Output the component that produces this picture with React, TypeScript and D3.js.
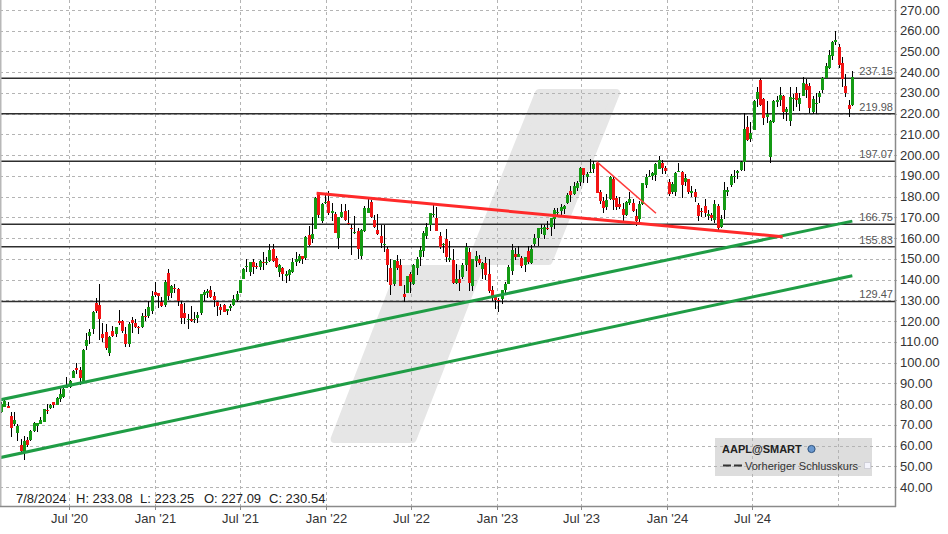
import React from 'react';
import * as d3 from 'd3';

type OHLC = [number, number, number, number];

// first weekly candle starts Monday 2020-02-03
const firstWeekStart = Date.UTC(2020, 1, 3);

const ohlc2020: OHLC[] = [
  [76.07, 81.19, 75.8, 80.01], [78.54, 81.97, 78.5, 81.24], [78.84, 81.16, 78.46, 78.26], [74.32, 76.04, 64.09, 68.34],
  [70.57, 76.0, 69.43, 72.26], [65.94, 70.31, 62.0, 69.49], [60.49, 63.2, 57.0, 57.31], [57.02, 64.67, 53.15, 61.94],
  [62.69, 63.88, 59.22, 60.35], [62.69, 67.52, 62.35, 66.99], [67.08, 71.58, 66.36, 70.7], [69.49, 70.75, 66.36, 70.74],
  [70.45, 73.63, 70.3, 72.27], [71.56, 77.59, 71.46, 77.53], [77.03, 79.92, 75.05, 76.93], [78.29, 80.22, 77.58, 79.72],
  [80.88, 81.06, 78.27, 79.49], [79.44, 83.4, 79.3, 82.88], [82.56, 88.69, 80.84, 84.7], [83.31, 88.3, 83.14, 87.43],
  [87.84, 93.1, 87.76, 88.41], [88.31, 91.67, 87.82, 91.03], [92.5, 96.32, 92.47, 95.92], [97.27, 99.95, 94.67, 96.33],
  [96.42, 97.97, 89.14, 92.62], [90.99, 106.41, 90.3, 106.26], [108.2, 114.41, 106.29, 111.11], [112.6, 116.04, 109.11, 114.91],
  [115.98, 124.87, 113.96, 124.37], [128.7, 131.0, 123.94, 124.81], [127.58, 137.98, 110.89, 120.96], [113.95, 119.14, 110.0, 112.0],
  [114.72, 118.83, 106.09, 106.84], [104.54, 112.86, 103.1, 112.28], [115.01, 117.72, 112.22, 113.02], [113.91, 117.0, 112.25, 116.97],
  [120.06, 125.39, 118.15, 119.02], [119.96, 120.42, 114.28, 115.04], [114.01, 117.28, 107.72, 108.86], [109.11, 119.62, 107.32, 118.69],
  [120.5, 121.99, 114.13, 119.26], [118.92, 120.99, 116.81, 117.34], [117.18, 117.62, 113.75, 116.59], [116.97, 123.78, 116.81, 122.25],
  [122.6, 125.95, 120.15, 122.41], [122.6, 129.58, 121.54, 126.66], [125.02, 134.41, 123.45, 131.97], [133.99, 138.79, 131.72, 132.69],
];

const ohlc2021: OHLC[] = [
  [133.52, 133.61, 126.38, 132.05], [129.19, 131.45, 126.86, 127.14], [127.78, 139.67, 126.94, 139.07], [143.07, 145.09, 130.21, 131.96],
  [133.75, 137.42, 130.93, 136.76], [136.03, 137.88, 133.69, 135.37], [135.49, 136.01, 127.41, 129.87], [128.01, 129.72, 118.39, 121.26],
  [123.75, 128.72, 118.62, 121.42], [120.93, 123.21, 116.21, 121.03], [121.03, 127.22, 119.68, 119.99], [120.33, 124.24, 118.92, 121.21],
  [121.65, 124.18, 118.86, 123.0], [123.87, 133.04, 123.07, 133.0], [132.52, 135.0, 129.47, 134.16], [133.51, 135.53, 131.3, 134.32],
  [134.83, 137.07, 131.07, 131.46], [132.04, 134.07, 126.7, 130.21], [129.41, 129.54, 122.25, 127.45], [126.82, 128.0, 122.77, 125.43],
  [127.82, 128.32, 124.21, 124.61], [125.08, 125.35, 123.13, 125.89], [126.17, 128.46, 124.83, 127.35], [127.82, 132.76, 127.12, 130.46],
  [130.3, 134.64, 129.21, 133.11], [133.41, 140.0, 133.35, 139.96], [140.07, 145.65, 140.07, 145.11], [146.21, 150.0, 143.63, 146.39],
  [143.75, 148.72, 141.67, 148.56], [148.27, 149.83, 142.54, 145.86], [146.36, 148.05, 145.18, 146.14], [146.2, 149.44, 144.8, 149.1],
  [148.54, 153.49, 144.5, 148.19], [148.31, 150.86, 146.83, 148.6], [149.0, 157.26, 148.61, 154.3], [154.97, 157.04, 148.7, 148.97],
  [150.63, 151.42, 145.76, 146.06], [143.8, 147.47, 141.27, 146.92], [145.47, 145.96, 139.11, 142.65], [141.76, 144.22, 138.27, 142.9],
  [142.27, 144.9, 139.2, 144.84], [143.45, 150.18, 143.16, 148.69], [148.68, 153.17, 146.41, 149.8], [148.99, 152.2, 147.8, 151.28],
  [151.41, 151.57, 147.48, 149.99], [150.37, 161.02, 149.34, 160.55], [161.68, 165.7, 156.36, 156.81], [159.37, 170.3, 157.8, 161.84],
  [164.29, 179.63, 164.28, 179.45], [181.12, 182.13, 169.69, 171.14], [168.28, 176.85, 167.46, 176.28], [177.09, 181.33, 176.61, 177.57],
];

const ohlc2022: OHLC[] = [
  [177.83, 182.94, 171.03, 172.17], [172.32, 177.18, 168.17, 173.07], [171.51, 172.54, 162.3, 162.41], [160.02, 170.35, 154.7, 170.33],
  [170.16, 176.24, 169.51, 172.39], [172.86, 176.65, 168.04, 168.64], [167.37, 173.34, 166.19, 167.3], [164.98, 166.69, 152.0, 164.85],
  [163.06, 170.7, 161.97, 163.17], [163.36, 165.02, 150.1, 154.73], [151.45, 164.48, 150.1, 163.98], [163.51, 175.28, 163.01, 174.72],
  [172.17, 179.61, 172.1, 174.31], [177.5, 178.49, 169.85, 170.09], [168.7, 171.27, 165.04, 165.29], [163.92, 171.53, 161.5, 161.79],
  [161.12, 166.2, 155.38, 157.65], [156.71, 166.48, 153.27, 157.28], [154.93, 155.83, 138.8, 147.11], [145.55, 149.77, 132.61, 137.59],
  [137.79, 149.68, 137.14, 149.64], [149.07, 151.74, 144.46, 145.38], [147.03, 149.87, 137.06, 137.13], [132.87, 137.34, 129.04, 131.56],
  [133.42, 141.91, 133.32, 141.66], [142.7, 143.49, 133.77, 138.93], [137.77, 147.55, 137.35, 147.04], [145.67, 150.86, 142.12, 150.17],
  [150.74, 156.28, 146.7, 154.09], [154.01, 163.63, 150.8, 162.51], [161.01, 167.19, 159.63, 165.35], [166.37, 172.17, 163.25, 172.1],
  [171.52, 176.15, 170.34, 171.52], [169.69, 175.2, 163.56, 163.62], [161.15, 162.9, 154.67, 155.81], [156.47, 157.5, 152.68, 157.37],
  [159.59, 164.26, 148.37, 150.7], [149.31, 158.74, 148.56, 150.43], [149.66, 154.72, 138.0, 138.2], [138.21, 147.54, 137.69, 140.09],
  [140.42, 144.52, 134.37, 138.38], [141.07, 147.85, 140.27, 147.27], [147.19, 157.5, 144.13, 155.74], [153.16, 155.45, 134.38, 138.38],
  [137.11, 150.01, 134.38, 149.7], [148.97, 153.59, 146.15, 151.29], [150.16, 151.83, 147.24, 148.11], [145.14, 148.72, 140.35, 147.81],
  [147.77, 150.92, 140.0, 142.16], [142.7, 149.97, 133.73, 134.51], [135.11, 136.81, 129.64, 131.86], [131.38, 131.41, 125.87, 129.93],
];

const ohlc2023: OHLC[] = [
  [130.28, 130.9, 124.17, 129.62], [130.47, 134.92, 128.12, 134.76], [134.83, 138.61, 133.77, 137.87], [138.12, 147.23, 137.9, 145.93],
  [143.97, 157.38, 142.28, 154.5], [152.57, 155.23, 149.22, 151.01], [150.95, 156.33, 150.85, 152.55], [150.2, 151.3, 145.72, 146.71],
  [147.05, 151.11, 143.9, 151.03], [153.79, 156.3, 147.61, 148.5], [147.81, 156.74, 147.7, 155.0], [157.32, 162.14, 155.98, 160.25],
  [159.94, 165.0, 155.98, 164.9], [164.27, 166.84, 161.8, 164.66], [161.42, 166.32, 159.78, 165.21], [165.09, 168.16, 164.03, 165.02],
  [165.19, 169.85, 161.08, 169.68], [169.28, 174.3, 164.31, 173.57], [172.48, 174.59, 171.0, 172.57], [173.16, 176.39, 170.42, 175.16],
  [173.98, 175.77, 171.47, 175.43], [176.96, 181.78, 176.57, 180.95], [182.63, 184.95, 177.32, 180.96], [181.27, 186.99, 180.97, 184.92],
  [184.41, 187.56, 182.59, 186.68], [186.83, 194.48, 185.23, 193.97], [193.78, 193.88, 186.6, 190.68], [189.26, 191.7, 186.6, 190.69],
  [191.9, 198.23, 191.23, 191.94], [193.33, 197.2, 191.35, 195.83], [196.06, 196.73, 181.92, 181.99], [182.13, 183.13, 176.55, 177.79],
  [177.97, 179.69, 171.96, 174.49], [175.07, 181.1, 173.74, 178.61], [178.88, 189.98, 178.55, 189.46], [188.28, 189.98, 173.54, 178.18],
  [179.49, 180.3, 173.58, 175.01], [176.48, 179.7, 173.86, 174.79], [174.2, 176.97, 167.62, 171.21], [171.22, 177.99, 170.82, 177.49],
  [176.81, 182.34, 175.8, 178.85], [176.75, 179.08, 172.64, 172.88], [170.91, 174.01, 165.67, 168.22], [169.35, 177.78, 167.9, 176.65],
  [176.38, 186.57, 176.21, 186.4], [185.82, 190.96, 184.21, 189.69], [189.89, 192.93, 189.25, 189.97], [189.92, 192.09, 188.19, 191.24],
  [190.21, 195.99, 187.45, 195.71], [193.11, 199.62, 193.11, 197.57], [196.09, 197.68, 191.09, 193.6], [193.61, 194.66, 191.09, 192.53],
];

const ohlc2024: OHLC[] = [
  [187.15, 188.44, 180.17, 181.18], [182.09, 187.05, 181.5, 185.92], [182.16, 191.95, 180.3, 191.56], [192.3, 196.38, 191.94, 192.42],
  [192.01, 192.2, 179.25, 185.85], [187.15, 191.05, 185.04, 188.85], [188.42, 188.67, 181.35, 182.31], [181.79, 185.04, 180.0, 182.52],
  [182.24, 183.92, 177.38, 179.66], [176.15, 176.9, 168.49, 170.73], [172.94, 174.38, 170.29, 172.62], [175.57, 178.67, 170.06, 172.28],
  [170.57, 173.6, 168.94, 171.48], [171.19, 171.92, 168.23, 169.58], [168.7, 178.36, 167.11, 176.55], [175.36, 176.63, 164.08, 165.0],
  [165.52, 171.34, 164.77, 169.3], [173.37, 187.0, 169.11, 183.38], [182.35, 184.66, 180.42, 183.05], [185.44, 191.1, 184.62, 189.87],
  [189.33, 192.82, 186.63, 189.98], [191.51, 193.0, 188.5, 192.25], [192.9, 197.3, 192.15, 196.89], [196.9, 220.2, 192.15, 212.49],
  [213.37, 218.95, 206.96, 207.49], [207.72, 216.07, 206.59, 210.62], [212.09, 226.45, 211.92, 226.34], [227.09, 233.08, 223.25, 230.54],
  [236.48, 237.23, 223.78, 224.31], [227.01, 227.78, 214.62, 217.96], [218.19, 226.0, 215.75, 219.86], [199.09, 216.78, 196.0, 216.24],
  [216.07, 226.83, 215.6, 226.05], [225.72, 228.34, 223.04, 226.84], [226.76, 232.92, 223.89, 229.0], [228.55, 229.0, 217.48, 220.82],
  [220.82, 223.09, 216.71, 222.5], [216.54, 233.09, 213.92, 228.2], [227.34, 229.52, 221.33, 227.52], [230.04, 233.0, 223.02, 226.8],
  [224.5, 229.75, 221.33, 227.55], [228.7, 237.49, 228.6, 235.0], [234.45, 236.85, 227.76, 231.41], [233.32, 234.73, 220.27, 222.91],
  [220.99, 228.66, 219.71, 226.96], [224.55, 229.74, 219.71, 225.0], [228.06, 230.72, 225.17, 229.87], [231.46, 237.81, 229.74, 237.33],
  [237.27, 244.63, 237.16, 242.84], [242.0, 250.8, 241.75, 248.13], [247.99, 255.0, 245.69, 254.49], [254.77, 260.1, 253.06, 255.59],
  [252.23, 253.5, 241.82, 243.36],
];

const ohlc2025: OHLC[] = [
  [244.31, 247.33, 233.0, 236.85], [233.53, 238.96, 228.03, 229.98], [224.0, 226.6, 218.6, 222.4], [224.02, 240.6, 223.5, 237.59],
];

const priceTicks = [270, 260, 250, 240, 230, 220, 210, 200, 190, 180, 170, 160, 150, 140, 130, 120, 110, 100, 90, 80, 70, 60, 50, 40];
const timeTicks = ['2020-07-01', '2021-01-01', '2021-07-01', '2022-01-01', '2022-07-01', '2023-01-01', '2023-07-01', '2024-01-01', '2024-07-01', '2025-01-01'];
const timeTickLabels = ["Jul '20", "Jan '21", "Jul '21", "Jan '22", "Jul '22", "Jan '23", "Jul '23", "Jan '24", "Jul '24", ''];
const levels = [237.15, 219.98, 197.07, 166.75, 155.83, 129.47];

const greenUpper = [{ d: '2020-02-03', p: 81.96 }, { d: '2025-01-31', p: 168.2 }];
const greenLower = [{ d: '2020-02-03', p: 54.14 }, { d: '2025-01-31', p: 141.9 }];
const redMain = [{ d: '2021-12-12', p: 181.6 }, { d: '2024-09-04', p: 160.7 }];
const redShort = [{ d: '2023-08-03', p: 196.9 }, { d: '2023-12-08', p: 172.0 }];

const infoItems = ['7/8/2024', 'H: 233.08', 'L: 223.25', 'O: 227.09', 'C: 230.54'];
const legendTitle = 'AAPL@SMART';
const legendItem = 'Vorheriger Schlusskurs';

const W = 948;
const H = 534;
const PLOT_R = 895;
const PLOT_B = 506;
const FONT = '"Liberation Sans", Arial, Helvetica, sans-serif';
const UP = '#149a14';
const DOWN = '#f21414';

const x = d3.scaleUtc().domain([new Date('2020-07-01T00:00:00Z'), new Date('2025-01-01T00:00:00Z')]).range([69.3, 838.3]);
const y = d3.scaleLinear().domain([40, 270]).range([487, 10]);

const allOhlc: OHLC[] = [...ohlc2020, ...ohlc2021, ...ohlc2022, ...ohlc2023, ...ohlc2024, ...ohlc2025];
const candles = allOhlc.map((c, i) => ({
  date: new Date(firstWeekStart + (7 * i + 4) * 86400000),
  o: c[0], h: c[1], l: c[2], c: c[3],
}));

const lineGen = d3.line<{ d: string; p: number }>()
  .x((v) => x(new Date(v.d + 'T00:00:00Z')))
  .y((v) => y(v.p));

// watermark shape (slanted logo), expressed in chart units through the scales' pixel space
const wm: [number, number][] = [
  [539, 93], [616, 93], [548.6, 261], [481.6, 261], [412.5, 439], [334.6, 439], [400.5, 269], [468.4, 269],
];

export default function App() {
  const labelX = [16, 76, 140, 204, 269];
  return (
    <div style={{ position: 'absolute', left: 0, top: 0 }}>
      <svg width={W} height={H} style={{ display: 'block', background: '#fff' }} fontFamily={FONT}>
        <defs>
          <clipPath id="plot">
            <rect x={0} y={0} width={PLOT_R} height={PLOT_B} />
          </clipPath>
        </defs>
        <rect x={0} y={0} width={W} height={H} fill="#fff" />
        <polygon points={wm.map((p) => p.join(',')).join(' ')} fill="#e6e6e6" stroke="#e6e6e6" strokeWidth={8} strokeLinejoin="round" />

        {/* legend box background */}
        <rect x={715} y={438} width={157} height={38} fill="#dddddd" />

        {/* grid */}
        <g stroke="#b4b4b4" strokeWidth={1} strokeDasharray="3,3" shapeRendering="crispEdges">
          {priceTicks.map((t) => (
            <line key={'h' + t} x1={0} x2={PLOT_R + 4} y1={Math.round(y(t)) + 0.5} y2={Math.round(y(t)) + 0.5} />
          ))}
          {timeTicks.map((t) => {
            const xx = Math.round(x(new Date(t + 'T00:00:00Z'))) + 0.5;
            return <line key={'v' + t} x1={xx} x2={xx} y1={0} y2={PLOT_B} />;
          })}
        </g>

        {/* horizontal levels */}
        <g stroke="#2e2e2e" strokeWidth={1.5}>
          {levels.map((lv) => (
            <line key={'lv' + lv} x1={0} x2={PLOT_R} y1={y(lv)} y2={y(lv)} />
          ))}
        </g>

        {/* candles */}
        <g clipPath="url(#plot)" shapeRendering="crispEdges">
          {candles.map((c, i) => {
            const cx = x(c.date);
            const left = Math.round(cx - 1.5);
            const top = Math.round(y(Math.max(c.o, c.c)));
            const bot = Math.round(y(Math.min(c.o, c.c)));
            return (
              <g key={i}>
                <line x1={left + 1.5} x2={left + 1.5} y1={Math.round(y(c.h))} y2={Math.round(y(c.l))} stroke="#000" strokeWidth={1} />
                <rect x={left} y={top} width={3} height={Math.max(1, bot - top)} fill={c.c >= c.o ? UP : DOWN} />
              </g>
            );
          })}
        </g>

        {/* trend lines */}
        <g clipPath="url(#plot)" fill="none">
          <path d={lineGen(greenUpper) || ''} stroke="#1f9d45" strokeWidth={3} />
          <path d={lineGen(greenLower) || ''} stroke="#1f9d45" strokeWidth={3} />
          <path d={lineGen(redMain) || ''} stroke="#ff2a2a" strokeWidth={3} />
          <path d={lineGen(redShort) || ''} stroke="#ff3a3a" strokeWidth={1.5} />
        </g>

        {/* level labels */}
        <g fontSize={11} fill="#555" textAnchor="end">
          {levels.map((lv) => (
            <text key={'lt' + lv} x={893} y={y(lv) - 3}>{lv.toFixed(2)}</text>
          ))}
        </g>

        {/* axes frame */}
        <line x1={0.5} x2={0.5} y1={0} y2={PLOT_B} stroke="#b8b8b8" strokeWidth={2} />
        <line x1={PLOT_R + 0.5} x2={PLOT_R + 0.5} y1={0} y2={PLOT_B + 1} stroke="#8a8a8a" strokeWidth={1.5} />
        <line x1={0} x2={PLOT_R + 1} y1={PLOT_B + 0.5} y2={PLOT_B + 0.5} stroke="#8a8a8a" strokeWidth={1.5} />

        {/* y labels */}
        <g fontSize={13} fill="#333">
          {priceTicks.map((t) => (
            <text key={'yl' + t} x={900} y={y(t) + 4.5}>{t.toFixed(2)}</text>
          ))}
        </g>

        {/* x ticks and labels */}
        <g fontSize={13} fill="#333" textAnchor="middle">
          {timeTicks.map((t, i) => {
            const xx = Math.round(x(new Date(t + 'T00:00:00Z'))) + 0.5;
            if (!timeTickLabels[i]) return null;
            return (
              <g key={'xl' + t}>
                <line x1={xx} x2={xx} y1={PLOT_B} y2={PLOT_B + 4} stroke="#8a8a8a" />
                <text x={xx} y={523}>{timeTickLabels[i]}</text>
              </g>
            );
          })}
        </g>

        {/* info text */}
        <g fontSize={13} fill="#222">
          {infoItems.map((s, i) => (
            <text key={'inf' + i} x={labelX[i]} y={503}>{s}</text>
          ))}
        </g>

        {/* legend content */}
        <text x={722} y={453} fontSize={11} fontWeight="bold" fill="#222">{legendTitle}</text>
        <circle cx={811.5} cy={449} r={3.6} fill="#6a98cf" stroke="#2d527e" strokeWidth={1} />
        <line x1={723} x2={742} y1={465.5} y2={465.5} stroke="#333" strokeWidth={2} strokeDasharray="8,3" />
        <text x={745} y={469.5} fontSize={11} fill="#333">{legendItem}</text>
        <rect x={864.5} y={462.5} width={6} height={6} fill="#f4f4fc" stroke="#d0d0d8" strokeWidth={1} />
      </svg>
    </div>
  );
}
